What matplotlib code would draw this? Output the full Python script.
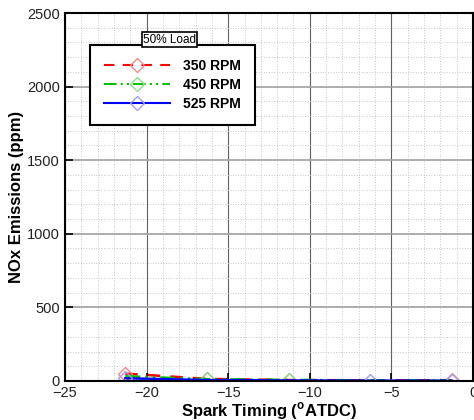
import matplotlib
matplotlib.use('Agg')
import matplotlib.pyplot as plt
from matplotlib.lines import Line2D
from matplotlib.ticker import MultipleLocator

plt.rcParams['font.family'] = ['Liberation Sans', 'DejaVu Sans']

# spark timing points (deg ATDC) and NOx readings (ppm)
timing = [-21.3, -16.3, -11.3, -6.3, -1.3]
nox_350 = [50, 14, 6, 4, 4]
nox_450 = [32, 12, 7, 4, 3]
nox_525 = [18, 6, 3, 2, 2]
labels = ['350 RPM', '450 RPM', '525 RPM']

line_colors = ['red', '#00c000', 'blue']
marker_colors = ['#f08c8c', '#8ce08c', '#a0a0f4']
styles = [(0, (5, 4)), (0, (6, 2, 1, 2, 1, 2)), '-']
marks = [[0, 1, 2, 4], [1, 2], [0, 3, 4]]

fig = plt.figure(figsize=(4.74, 4.2), dpi=100)
ax = fig.add_axes([0.137, 0.093, 0.861, 0.876])

mk = dict(marker='D', markersize=7.5, markerfacecolor='none', markeredgewidth=1.0)
handles = []
for y, lc, mc, ls, me, lab in zip([nox_350, nox_450, nox_525], line_colors,
                                  marker_colors, styles, marks, labels):
    ax.plot(timing, y, color=lc, linestyle=ls, lw=1.8, markeredgecolor=mc,
            markevery=me, **mk)
    handles.append(Line2D([], [], color=lc, linestyle=ls, lw=1.5,
                          markeredgecolor=mc, label=lab, **mk))

ax.set_xlim(-25, 0)
ax.set_ylim(0, 2500)
ax.xaxis.set_major_locator(MultipleLocator(5))
ax.xaxis.set_minor_locator(MultipleLocator(1))
ax.yaxis.set_major_locator(MultipleLocator(500))
ax.yaxis.set_minor_locator(MultipleLocator(100))
ax.xaxis.grid(which='major', color='#606060', linestyle='-', lw=0.8)
ax.yaxis.grid(which='major', color='#a0a0a0', linestyle='-', lw=1.2)
ax.grid(which='minor', color='#c8c8c8', linestyle=':', lw=0.7)
ax.set_axisbelow(True)
ax.tick_params(which='major', direction='in', length=6, width=1.2,
               labelsize=10.5, colors='black', labelcolor='#222222')
ax.tick_params(which='minor', length=0)
for s in ax.spines.values():
    s.set_linewidth(1.5)

ax.set_xlabel('Spark Timing ($^{\\mathregular{o}}$ATDC)', fontsize=12, fontweight='bold', labelpad=0)
ax.set_ylabel('NOx Emissions (ppm)', fontsize=12, fontweight='bold', labelpad=2)

leg = ax.legend(handles=handles, loc='upper left', bbox_to_anchor=(0.061, 0.913),
                prop={'weight': 'bold', 'size': 10}, handlelength=4.8, numpoints=1,
                handletextpad=0.9, borderpad=1.0, borderaxespad=0,
                labelspacing=0.35, fancybox=False, framealpha=1, edgecolor='black')
leg.get_frame().set_linewidth(1.5)

ax.text(0.256, 0.928, '50% Load', transform=ax.transAxes, fontsize=8.5,
        ha='center', va='center', zorder=10,
        bbox=dict(boxstyle='square,pad=0.1', facecolor='white', edgecolor='black', lw=1.2))

fig.savefig('out.png', dpi=100)
